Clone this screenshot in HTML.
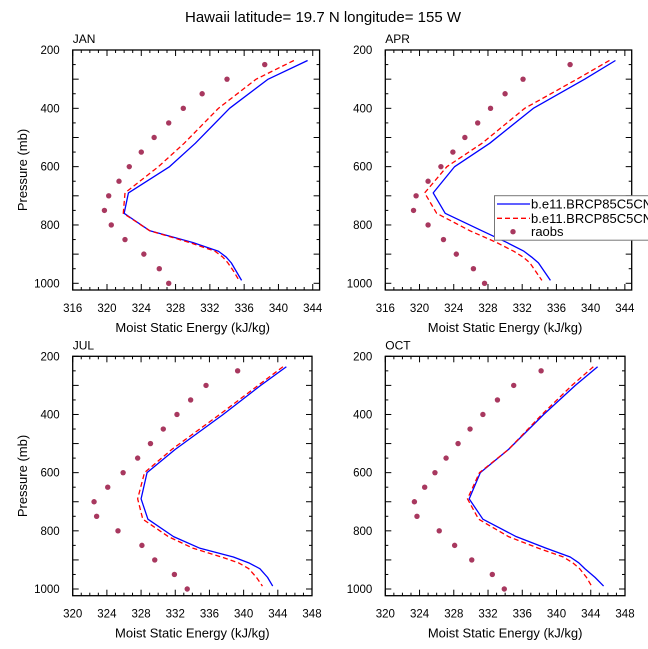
<!DOCTYPE html>
<html><head><meta charset="utf-8"><style>
body{margin:0;background:#fff}
svg{display:block;font-family:"Liberation Sans",Arial,sans-serif}
</style></head><body>
<svg id="chart" width="648" height="649" viewBox="0 0 648 649">
<text x="323" y="22" text-anchor="middle" font-size="15">Hawaii  latitude= 19.7 N longitude= 155 W</text>
</svg>
<script>
const levels = [236,300,400,520,600,690,760,820,860,890,910,930,960,990];
const obsLevels = [250,300,350,400,450,500,550,600,650,700,750,800,850,900,950,1000];
const janBlue = [343.4,338.8,334.3,330.3,327.3,322.5,322.0,325.0,330.0,333.0,333.9,334.5,335.1,335.7];
const janRed  = [341.8,337.4,333.0,329.0,326.0,322.1,321.9,325.0,329.6,332.6,333.5,334.1,334.8,335.4];
const janObs  = [338.4,334.0,331.1,328.9,327.2,325.5,324.0,322.6,321.4,320.2,319.7,320.5,322.1,324.3,326.1,327.2];
const aprBlue = [342.9,339.3,333.3,328.2,324.1,321.6,323.0,327.3,330.2,332.2,333.1,333.9,334.6,335.3];
const aprRed  = [342.2,338.4,332.3,327.3,323.2,320.6,322.0,325.9,329.0,331.0,332.1,332.9,333.6,334.3];
const aprObs  = [337.6,332.1,330.0,328.3,326.8,325.3,323.9,322.5,321.0,319.6,319.3,321.0,322.8,324.3,326.3,327.6];
const julBlue = [345.0,342.0,337.6,332.0,328.7,328.0,328.8,331.8,334.9,338.8,340.6,341.9,342.8,343.4];
const julRed  = [344.6,341.7,337.2,331.6,328.4,327.6,328.2,331.2,334.1,337.4,339.4,340.6,341.5,342.2];
const julObs  = [339.3,335.6,333.8,332.2,330.6,329.1,327.6,325.9,324.1,322.5,322.8,325.3,328.1,329.6,331.9,333.4];
const octBlue = [344.8,342.2,338.5,334.4,331.1,329.8,331.4,335.3,338.8,341.6,342.6,343.3,344.5,345.5];
const octRed  = [344.3,341.8,338.3,334.4,331.0,329.6,330.9,334.4,337.9,340.8,341.9,342.7,343.5,344.1];
const octObs  = [338.2,335.0,333.1,331.4,329.9,328.5,327.1,325.8,324.6,323.4,323.7,326.3,328.1,330.1,332.5,333.9];
const xTicksA = [316,320,324,328,332,336,340,344];
const xTicksB = [320,324,328,332,336,340,344,348];
const yTicks = [200,400,600,800,1000];

const NS="http://www.w3.org/2000/svg";
const svg=document.getElementById('chart');
function mk(tag,attrs,parent){const e=document.createElementNS(NS,tag);for(const k in attrs)e.setAttribute(k,attrs[k]);(parent||svg).appendChild(e);return e;}

function panel(name,L,R,T,B,xmin,xmax,ymax,xticks,blue,red,obs,showY){
  const g=mk('g',{});
  
  
  const sx=v=>L+(v-xmin)/(xmax-xmin)*(R-L);
  const sy=p=>T+(p-200)/(ymax-200)*(B-T);
  for(let v=Math.ceil(xmin);v<=xmax;v++){
    const major=xticks.includes(v);const len=major?6:3;
    mk('line',{x1:sx(v),x2:sx(v),y1:B,y2:B-len,stroke:'#000','stroke-width':1},g);
    mk('line',{x1:sx(v),x2:sx(v),y1:T,y2:T+len,stroke:'#000','stroke-width':1},g);
  }
  for(let p=200;p<=ymax;p+=50){
    const len=(p%100===0)?6:3;
    mk('line',{x1:L,x2:L+len,y1:sy(p),y2:sy(p),stroke:'#000','stroke-width':1},g);
    mk('line',{x1:R,x2:R-len,y1:sy(p),y2:sy(p),stroke:'#000','stroke-width':1},g);
  }
  const box=mk('rect',{x:L,y:T,width:R-L,height:B-T,fill:'none',stroke:'#000','stroke-width':1.3},g);
  
  
  xticks.forEach(v=>{
    const t=mk('text',{x:sx(v),y:B+22,'text-anchor':'middle','font-size':11.5},g);t.textContent=v;
    
    
  });
  yTicks.forEach(p=>{
    const t=mk('text',{x:L-13,y:sy(p)+4,'text-anchor':'end','font-size':11.5},g);t.textContent=p;
    
    
  });
  const lab=mk('text',{x:L,y:T-7,'font-size':12},g);lab.textContent=name.toUpperCase();
  
  
  const xt=mk('text',{x:(L+sx(xticks[xticks.length-1]))/2,y:B+42,'text-anchor':'middle','font-size':13},g);
  xt.textContent='Moist Static Energy (kJ/kg)';
  
  
  if(showY){
    const yc=(T+B)/2;
    const yt=mk('text',{x:27,y:yc,'text-anchor':'middle','font-size':13,transform:'rotate(-90 27 '+yc+')'},g);
    yt.textContent='Pressure (mb)';
    
    
  }
  const bl=mk('polyline',{points:levels.map((p,i)=>sx(blue[i])+','+sy(p)).join(' '),fill:'none',stroke:'#0000ff','stroke-width':1.3,'stroke-linejoin':'round'},g);
  
  
  const rl=mk('polyline',{points:levels.map((p,i)=>sx(red[i])+','+sy(p)).join(' '),fill:'none',stroke:'#ff0000','stroke-width':1.3,'stroke-dasharray':'5,3'},g);
  
  
  obsLevels.forEach((p,i)=>{
    const c=mk('circle',{cx:sx(obs[i]),cy:sy(p),r:2.7,fill:'#a8385f'},g);
    
    
  });
}
panel('jan',72.7,319.6,50,290,316,344.8,1023,xTicksA,janBlue,janRed,janObs,true);
panel('apr',385.3,631.7,50,290,316,344.8,1023,xTicksA,aprBlue,aprRed,aprObs,false);
panel('jul',72.7,312,356.3,595.7,320,348,1023,xTicksB,julBlue,julRed,julObs,true);
panel('oct',385.3,625,356.3,595.7,320,348,1023,xTicksB,octBlue,octRed,octObs,false);

const lg=mk('g',{});


mk('rect',{x:494.5,y:195.7,width:160,height:44.5,fill:'#fff',stroke:'#777','stroke-width':1},lg);
const entries=[['b.e11.BRCP85C5CN','#0000ff',null,204],['b.e11.BRCP85C5CN','#ff0000','5,3',218.3],['raobs','#a8385f','dot',231.7]];
entries.forEach((e,i)=>{
  if(e[2]==='dot'){mk('circle',{cx:513,cy:e[3],r:2.7,fill:e[1]},lg);}
  else{const a={x1:497,x2:530,y1:e[3],y2:e[3],stroke:e[1],'stroke-width':1.3};if(e[2])a['stroke-dasharray']=e[2];mk('line',a,lg);}
  const t=mk('text',{x:531,y:e[3]+4.5,'font-size':13},lg);t.textContent=e[0];
  
  
});
</script>
</body></html>
